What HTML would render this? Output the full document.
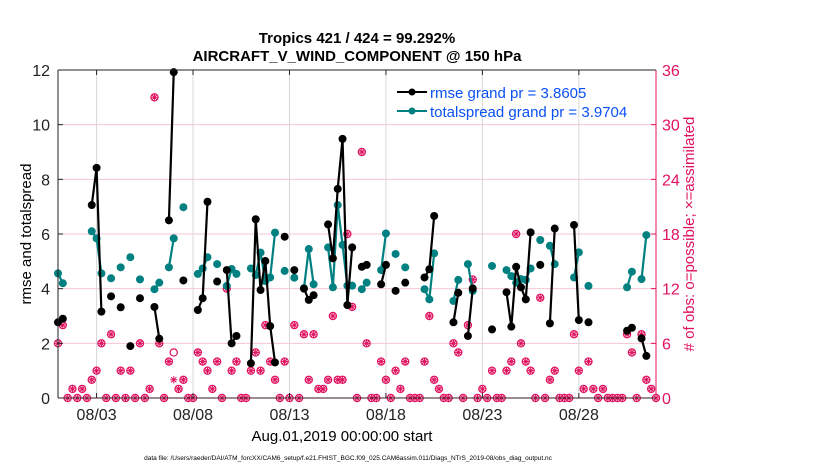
<!DOCTYPE html>
<html><head><meta charset="utf-8">
<style>
html,body{margin:0;padding:0;background:#fff;}
svg{display:block;font-family:"Liberation Sans",Arial,sans-serif;}
</style></head>
<body>
<svg id="chart" width="830" height="470" viewBox="0 0 830 470">
<rect x="0" y="0" width="830" height="470" fill="#fff"/>
<g id="grid"></g>
<g id="marks"></g>
<g id="axes"></g>
<text x="357" y="43" text-anchor="middle" font-size="15" font-weight="bold">Tropics 421 / 424 = 99.292%</text>
<text x="357" y="61" text-anchor="middle" font-size="15" font-weight="bold">AIRCRAFT_V_WIND_COMPONENT @ 150 hPa</text>
<text transform="translate(31,234) rotate(-90)" text-anchor="middle" font-size="15">rmse and totalspread</text>
<text transform="translate(694,234) rotate(-90)" text-anchor="middle" font-size="15" fill="#e0115f"># of obs: o=possible; ×=assimilated</text>
<text x="342" y="441" text-anchor="middle" font-size="15">Aug.01,2019 00:00:00 start</text>
<text x="348" y="460" text-anchor="middle" font-size="6.5">data file: /Users/raeder/DAI/ATM_forcXX/CAM6_setup/f.e21.FHIST_BGC.f09_025.CAM6assim.011/Diags_NTrS_2019-08/obs_diag_output.nc</text>
<g>
<line x1="397" y1="92" x2="427" y2="92" stroke="#000" stroke-width="2"/>
<circle cx="412" cy="92" r="3.5" fill="#000"/>
<text x="430" y="98" font-size="15" fill="#0a50f5">rmse grand pr = 3.8605</text>
<line x1="397" y1="111" x2="427" y2="111" stroke="#008080" stroke-width="2"/>
<circle cx="412" cy="111" r="3.5" fill="#008080"/>
<text x="430" y="117" font-size="15" fill="#0a50f5">totalspread grand pr = 3.9704</text>
</g>
</svg>
<script>
// Data: 6-hourly slots starting Aug 01 00Z (slot index -> days = slot/4)
const N = 124;
const rmseSlots = [0,1,7,8,9,11,13,15,17,20,21,23,24,26,29,30,31,33,35,36,37,40,41,42,43,44,45,47,49,51,52,53,56,57,58,59,60,61,63,64,67,68,70,72,76,77,78,82,83,85,86,90,93,94,95,96,97,98,100,102,103,107,108,110,118,119,121,122];
const rmseValues = [2.77,2.9,7.06,8.42,3.16,3.72,3.32,1.9,3.65,3.33,2.17,6.5,11.92,4.3,3.22,3.65,7.18,4.26,4.68,2.0,2.27,1.27,6.54,3.95,5.01,2.63,1.3,5.9,4.68,4.0,3.59,3.76,6.35,5.11,7.65,9.48,3.4,5.51,4.8,4.87,4.16,4.87,3.92,4.22,4.41,4.71,6.66,2.77,3.85,2.27,4.01,2.51,3.87,2.61,4.8,4.05,3.61,6.06,4.87,2.73,6.2,6.33,2.85,2.77,2.46,2.57,2.18,1.54];
const spreadSlots = [0,1,7,8,9,11,13,15,17,20,21,23,24,26,29,30,31,33,35,36,37,40,41,42,43,44,45,47,49,51,52,53,56,57,58,59,60,61,63,64,67,68,70,72,76,77,78,82,83,85,86,90,93,94,95,96,97,98,100,102,103,107,108,110,118,119,121,122];
const spreadValues = [4.56,4.2,6.1,5.84,4.56,4.38,4.78,5.15,4.34,3.98,4.22,4.78,5.84,6.98,4.54,4.74,5.15,4.9,4.1,4.72,4.54,4.74,4.5,5.32,4.28,4.41,6.05,4.65,4.4,4.02,5.45,4.16,5.51,4.05,7.06,5.6,4.11,4.11,3.98,4.22,4.68,6.02,5.27,4.78,3.98,3.61,5.29,3.55,4.32,4.9,3.92,4.83,4.68,4.46,4.22,4.35,4.32,4.74,5.78,5.57,4.9,4.41,5.33,4.1,4.05,4.62,4.35,5.96];
const possibleCounts = [6,8,0,1,0,1,0,2,3,6,0,7,0,3,0,3,0,6,0,1,33,6,0,4,5,1,2,0,0,5,4,3,1,4,0,12,3,4,0,0,3,5,3,8,4,2,0,4,0,8,0,7,2,7,1,1,2,9,2,2,18,10,0,27,6,0,0,4,2,0,3,1,4,0,0,0,4,9,2,1,0,0,6,5,0,8,13,0,1,0,3,0,0,3,4,18,6,4,3,0,11,0,2,3,0,0,0,7,3,1,4,1,0,1,0,0,0,0,7,5,0,7,2,1,0];
const assimCounts = [6,8,0,1,0,1,0,2,3,6,0,7,0,3,0,3,0,6,0,1,33,6,0,4,2,1,2,0,0,5,4,3,1,4,0,12,3,4,0,0,3,5,3,8,4,2,0,4,0,8,0,7,2,7,1,1,2,9,2,2,18,10,0,27,6,0,0,4,2,0,3,1,4,0,0,0,4,9,2,1,0,0,6,5,0,8,13,0,1,0,3,0,0,3,4,18,6,4,3,0,11,0,2,3,0,0,0,7,3,1,4,1,0,1,0,0,0,0,7,5,0,7,2,1,0];
const leftTicks = [0,2,4,6,8,10,12];
const rightTicks = [0,6,12,18,24,30,36];
const dateTickDays = [2,7,12,17,22,27];
const dateTickLabels = ["08/03","08/08","08/13","08/18","08/23","08/28"];

const L=58, R=656, T=70, B=398;
const xMin=0, xMax=31;
function xs(d){return L+(d-xMin)/(xMax-xMin)*(R-L);}
function yl(v){return B-v/12*(B-T);}
function yr(v){return B-v/36*(B-T);}
const NS="http://www.w3.org/2000/svg";
function mk(tag,attrs,parent){const e=document.createElementNS(NS,tag);for(const k in attrs)e.setAttribute(k,attrs[k]);parent.appendChild(e);return e;}
const grid=document.getElementById('grid'), marks=document.getElementById('marks'), axes=document.getElementById('axes');

leftTicks.forEach(v=>{
  if(v>0&&v<12){const g=mk('line',{x1:L,x2:R,y1:yl(v),y2:yl(v),stroke:'#f4c6d6','stroke-width':1},grid);
  
  }
  const tk=mk('line',{x1:L,x2:L+5,y1:yl(v),y2:yl(v),stroke:'#222'},axes);
  
  
  const t=mk('text',{x:L-8,y:yl(v)+6,'text-anchor':'end','font-size':16,fill:'#222'},axes);
  t.textContent=v;
  
  
});
rightTicks.forEach(v=>{
  const tk=mk('line',{x1:R-5,x2:R,y1:yr(v),y2:yr(v),stroke:'#e0115f'},axes);
  
  
  const t=mk('text',{x:R+6,y:yr(v)+6,'font-size':16,fill:'#e0115f'},axes);
  t.textContent=v;
  
  
});
dateTickDays.forEach((d,i)=>{
  const g=mk('line',{x1:xs(d),x2:xs(d),y1:T,y2:B,stroke:'#d8d8d8'},grid);
  
  
  const tk=mk('line',{x1:xs(d),x2:xs(d),y1:B-5,y2:B,stroke:'#222'},axes);
  
  
  const tk2=mk('line',{x1:xs(d),x2:xs(d),y1:T,y2:T+5,stroke:'#222'},axes);
  
  
  const t=mk('text',{x:xs(d),y:B+22,'text-anchor':'middle','font-size':16,fill:'#222'},axes);
  t.textContent=dateTickLabels[i];
  
  
});
const frame=[['line',{x1:L,x2:R,y1:T,y2:T,stroke:'#222'}],['line',{x1:L,x2:R,y1:B,y2:B,stroke:'#3a1a22'}],['line',{x1:L,x2:L,y1:T,y2:B,stroke:'#222'}],['line',{x1:R,x2:R,y1:T,y2:B,stroke:'#e0115f'}]];
frame.forEach(f=>{const e=mk(f[0],f[1],axes);
  
  });

function star(cx,cy,r,parent){
  const g=mk('g',{stroke:'#e0115f','stroke-width':1},parent);
  for(let k=0;k<4;k++){const a=k*Math.PI/4;
    mk('line',{x1:cx-r*Math.cos(a),y1:cy-r*Math.sin(a),x2:cx+r*Math.cos(a),y2:cy+r*Math.sin(a)},g);}
  return g;
}
possibleCounts.forEach((c,i)=>{
  const cx=xs(i/4), cy=yr(c);
  const o=mk('circle',{cx:cx,cy:cy,r:3.6,fill:'none',stroke:'#e0115f','stroke-width':1.2},marks);
  
  
});
assimCounts.forEach((c,i)=>{
  const cx=xs(i/4), cy=yr(c);
  const s=star(cx,cy,3.6,marks);
  
  
});

function series(slots,vals,color,name){
  let d='';
  for(let i=0;i<slots.length;i++){
    const x=xs(slots[i]/4), y=yl(vals[i]);
    if(i>0&&slots[i]===slots[i-1]+1) d+=' L'+x+' '+y; else d+=' M'+x+' '+y;
  }
  const p=mk('path',{d:d,fill:'none',stroke:color,'stroke-width':2.2,'stroke-linejoin':'round'},marks);
  
  
  slots.forEach((s,i)=>{
    const c=mk('circle',{cx:xs(s/4),cy:yl(vals[i]),r:4,fill:color},marks);
    
    
  });
}
series(spreadSlots,spreadValues,'#008080','totalspread');
series(rmseSlots,rmseValues,'#000','rmse');
</script>
</body></html>
